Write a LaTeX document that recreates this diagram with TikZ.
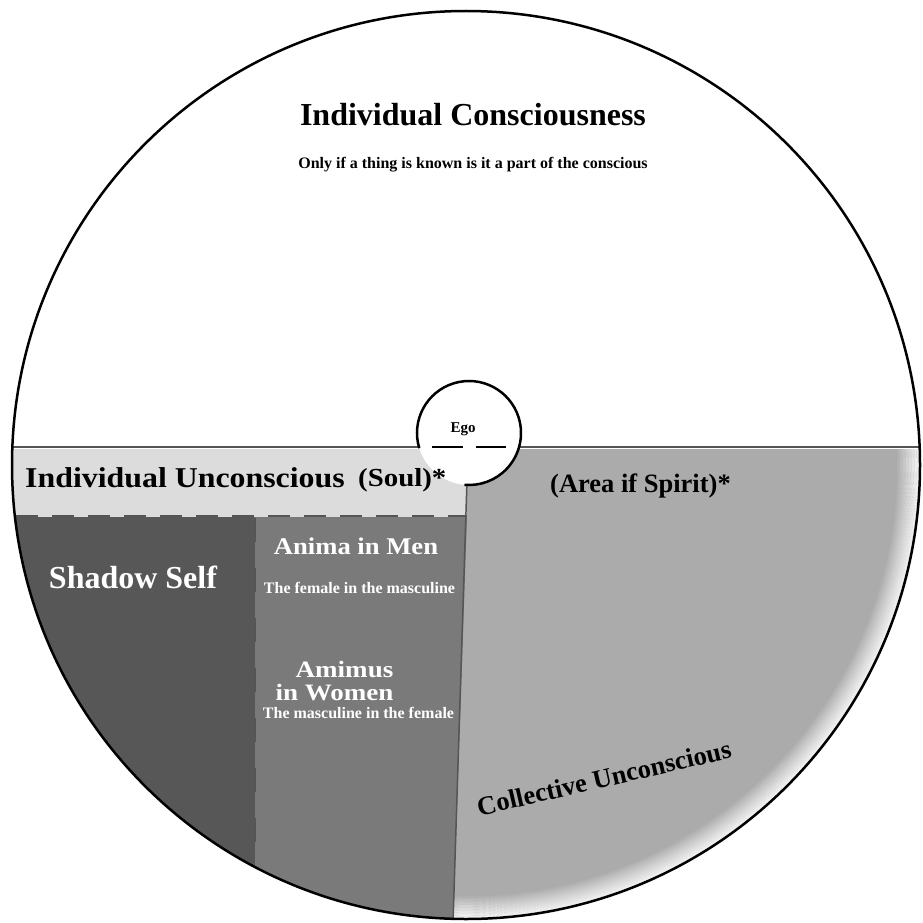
\documentclass[tikz,border=0pt]{standalone}
\usepackage{fontspec}
\setmainfont{Liberation Serif}
\newfontfamily\wideA[FakeStretch=1.11]{Liberation Serif}
\newfontfamily\wideB[FakeStretch=1.15]{Liberation Serif}
\definecolor{bandgray}{HTML}{DCDCDC}
\definecolor{shadowgray}{HTML}{575757}
\definecolor{animagray}{HTML}{7A7A7A}
\definecolor{collgray}{HTML}{ABABAB}
\definecolor{linegray}{HTML}{555555}
\tikzset{
  lbl/.style={font=\bfseries, inner sep=0pt, anchor=base},
  wlbl/.style={lbl, text=white},
  dashline/.style={linegray, line width=2.5pt, dash pattern=on 22pt off 14pt},
}
\begin{document}
\begin{tikzpicture}[x=1pt,y=-1pt]
\useasboundingbox (0,0) rectangle (922,923);
\coordinate (C) at (466,465);
\begin{scope}
  \clip (C) circle[radius=454pt];
  \fill[collgray] (467,449) -- (922,449) -- (922,923) -- (453,923) -- cycle;
  \begin{scope}
    \clip (467,449) -- (922,449) -- (922,923) -- (453,923) -- cycle;
    \foreach \i in {0,...,14}
      \draw[white, opacity={0.85*(1-\i/15)}, line width=1.6pt] (C) circle[radius={(453-1.5*\i)*1pt}];
  \end{scope}
  \fill[bandgray] (0,449) rectangle (467,517);
  \fill[shadowgray] (0,517) rectangle (255,923);
  \fill[animagray] (255,517) -- (467,517) -- (453,923) -- (255,923) -- cycle;
  \draw[dashline] (16,516) -- (467,516);
  \draw[dashline, dash pattern=on 24pt off 26pt] (255,518) -- (255,880);
  \draw[linegray, line width=1.5pt] (467,480) -- (453,923);
  \draw[linegray, line width=2.5pt] (0,447) -- (922,447);
\end{scope}
\node[circle, fill=white, minimum size=104pt, inner sep=0pt] (ego) at (469,433) {};
\draw[black, line width=2.5pt] ([shift={(163:52)}]ego.center) arc[start angle=163, end angle=455, radius=52];
\draw[black, line width=2.5pt] (432,447) -- (463,447) (476,447) -- (506,447);
\node[lbl, font=\bfseries\fontsize{15}{17}\selectfont] (egot) at (463,432) {Ego};
\draw[black, line width=2.5pt] (C) circle[radius=454pt];

\node[lbl, font=\bfseries\fontsize{32}{36}\selectfont] (ic) at (473,126) {Individual Consciousness};
\node[lbl, font=\bfseries\fontsize{16}{18}\selectfont] (icsub) at (473,168) {Only if a thing is known is it a part of the conscious};
\node[lbl, anchor=base west, font=\wideA\bfseries\fontsize{28.7}{32}\selectfont] (iu) at (25,487) {Individual Unconscious};
\node[lbl, anchor=base west, font=\wideA\bfseries\fontsize{26}{30}\selectfont] (soul) at (358,486) {(Soul)*};
\node[lbl, anchor=base west, font=\bfseries\fontsize{26.5}{30}\selectfont] (spirit) at (550,492) {(Area if Spirit)*};
\node[wlbl, font=\bfseries\fontsize{32}{36}\selectfont] (shadow) at (133,588) {Shadow Self};
\node[wlbl, font=\wideA\bfseries\fontsize{24}{28}\selectfont] (anima) at (356,554) {Anima in Men};
\node[wlbl, font=\bfseries\fontsize{16}{18}\selectfont] (animasub) at (359.5,593) {The female in the masculine};
\node[wlbl, font=\wideB\bfseries\fontsize{23.5}{27}\selectfont] (animus1) at (344.5,677) {Amimus};
\node[wlbl, font=\wideB\bfseries\fontsize{23.5}{27}\selectfont] (animus2) at (334.5,700) {in Women};
\node[wlbl, font=\bfseries\fontsize{16}{18}\selectfont] (animussub) at (358.5,718) {The masculine in the female};
\node[lbl, anchor=center, rotate=13, font=\bfseries\fontsize{26.5}{30}\selectfont] (coll) at (604,778) {Collective Unconscious};
\end{tikzpicture}
\end{document}
